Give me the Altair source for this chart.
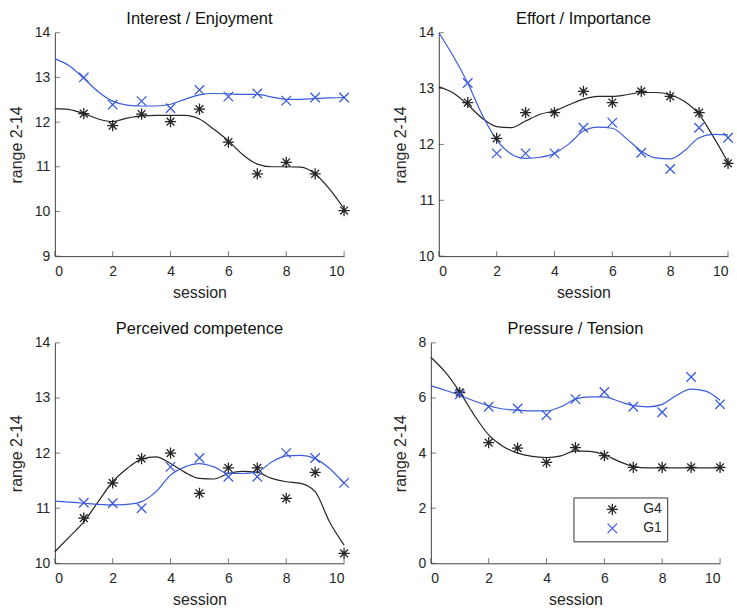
import altair as alt
import pandas as pd

# ---------------- data ----------------
sessions = [1, 2, 3, 4, 5, 6, 7, 8, 9, 10]
curve_x = [0, 0.5, 1, 1.5, 2, 2.5, 3, 3.5, 4, 4.5, 5, 5.5, 6, 6.5, 7, 7.5, 8, 8.5, 9, 9.5, 10]
groups = ["G4", "G1"]

titles = ["Interest / Enjoyment", "Effort / Importance", "Perceived competence", "Pressure / Tension"]
y_domains = [[9, 14], [10, 14], [10, 14], [0, 8]]
y_ticks = [[9, 10, 11, 12, 13, 14], [10, 11, 12, 13, 14], [10, 11, 12, 13, 14], [0, 2, 4, 6, 8]]
x_ticks = [0, 2, 4, 6, 8, 10]

# Interest / Enjoyment
p1_g4_pts = [12.19, 11.92, 12.18, 12.01, 12.29, 11.55, 10.84, 11.10, 10.84, 10.02]
p1_g1_pts = [13.00, 12.39, 12.47, 12.31, 12.72, 12.57, 12.64, 12.48, 12.55, 12.55]
p1_g4_fit = [12.30, 12.28, 12.19, 12.07, 12.01, 12.09, 12.14, 12.15, 12.15, 12.15, 12.07,
             11.84, 11.58, 11.27, 11.06, 11.00, 11.00, 10.99, 10.84, 10.50, 10.06]
p1_g1_fit = [13.42, 13.26, 12.98, 12.68, 12.47, 12.38, 12.36, 12.36, 12.40, 12.51, 12.61,
             12.64, 12.63, 12.62, 12.62, 12.56, 12.51, 12.51, 12.53, 12.54, 12.55]

# Effort / Importance
p2_g4_pts = [12.75, 12.11, 12.57, 12.57, 12.95, 12.75, 12.95, 12.86, 12.57, 11.66]
p2_g1_pts = [13.10, 11.84, 11.84, 11.84, 12.30, 12.39, 11.85, 11.56, 12.30, 12.12]
p2_g4_fit = [13.03, 12.92, 12.71, 12.47, 12.32, 12.30, 12.42, 12.54, 12.60, 12.71, 12.81,
             12.86, 12.86, 12.89, 12.93, 12.93, 12.89, 12.77, 12.54, 12.13, 11.68]
p2_g1_fit = [14.00, 13.58, 13.10, 12.53, 12.08, 11.83, 11.75, 11.77, 11.84, 12.01, 12.24,
             12.31, 12.29, 12.10, 11.88, 11.76, 11.74, 11.89, 12.12, 12.18, 12.17]

# Perceived competence
p3_g4_pts = [10.82, 11.46, 11.90, 12.00, 11.27, 11.73, 11.73, 11.18, 11.65, 10.18]
p3_g1_pts = [11.10, 11.09, 11.00, 11.75, 11.91, 11.57, 11.57, 12.00, 11.91, 11.46]
p3_g4_fit = [10.21, 10.48, 10.75, 11.12, 11.48, 11.72, 11.89, 11.93, 11.81, 11.65, 11.54,
             11.53, 11.63, 11.67, 11.65, 11.54, 11.48, 11.45, 11.30, 10.75, 10.33]
p3_g1_fit = [11.13, 11.11, 11.09, 11.07, 11.06, 11.07, 11.12, 11.30, 11.60, 11.75, 11.81,
             11.75, 11.63, 11.63, 11.66, 11.84, 11.95, 11.96, 11.90, 11.72, 11.45]

# Pressure / Tension
p4_g4_pts = [6.20, 4.38, 4.18, 3.66, 4.20, 3.91, 3.48, 3.48, 3.48, 3.48]
p4_g1_pts = [6.13, 5.68, 5.62, 5.38, 5.96, 6.22, 5.68, 5.48, 6.76, 5.77]
p4_g4_fit = [7.48, 6.94, 6.22, 5.38, 4.66, 4.24, 4.00, 3.88, 3.84, 3.90, 4.08,
             4.06, 3.94, 3.70, 3.52, 3.46, 3.46, 3.46, 3.46, 3.46, 3.46]
p4_g1_fit = [6.44, 6.28, 6.10, 5.89, 5.72, 5.60, 5.56, 5.53, 5.53, 5.68, 5.96,
             6.04, 6.04, 5.88, 5.72, 5.68, 5.77, 6.10, 6.32, 6.25, 5.92]

panels = [
    (p1_g4_pts, p1_g1_pts, p1_g4_fit, p1_g1_fit),
    (p2_g4_pts, p2_g1_pts, p2_g4_fit, p2_g1_fit),
    (p3_g4_pts, p3_g1_pts, p3_g4_fit, p3_g1_fit),
    (p4_g4_pts, p4_g1_pts, p4_g4_fit, p4_g1_fit),
]

# ---------------- style ----------------
FONT = "Liberation Sans"
BLACK = "#262626"
BLUE = "#3b5bdb"
AXIS = "#404040"
W = 290
H_TOP, H_BOTTOM = 224, 221
ASTERISK = "M0,-1L0,1M-1,0L1,0M-0.7,-0.7L0.7,0.7M-0.7,0.7L0.7,-0.7"
XMARK = "M-0.85,-0.85L0.85,0.85M-0.85,0.85L0.85,-0.85"

color_scale = alt.Scale(domain=groups, range=[BLACK, BLUE])
shape_scale = alt.Scale(domain=groups, range=[ASTERISK, XMARK])

# one shared legend, placed inside the lower-right panel
legend_spec = alt.Legend(
    title=None, orient="none", legendX=520, legendY=466,
    direction="vertical", strokeColor="#333333", fillColor="white",
    padding=5, symbolOffset=27, labelOffset=24, rowPadding=2, columnPadding=0,
    labelFont=FONT, labelFontSize=14, labelColor="#262626",
    symbolSize=125, symbolStrokeWidth=1.3, cornerRadius=0,
)


def make_panel(i, h):
    g4_pts, g1_pts, g4_fit, g1_fit = panels[i]
    pts = pd.DataFrame({
        "session": sessions + sessions,
        "value": g4_pts + g1_pts,
        "group": ["G4"] * len(sessions) + ["G1"] * len(sessions),
    })
    fit_g4 = pd.DataFrame({"session": curve_x, "value": g4_fit})
    fit_g1 = pd.DataFrame({"session": curve_x, "value": g1_fit})
    xt = pd.DataFrame({"session": x_ticks})
    yt = pd.DataFrame({"value": y_ticks[i]})

    x = alt.X("session:Q", scale=alt.Scale(domain=[0, 10], nice=False),
              axis=alt.Axis(values=x_ticks, title="session", grid=False, ticks=False,
                            tickSize=0, labelPadding=8, titlePadding=6, format="d"))
    y = alt.Y("value:Q", scale=alt.Scale(domain=y_domains[i], nice=False),
              axis=alt.Axis(values=y_ticks[i], title="range 2-14", grid=False, ticks=False,
                            tickSize=0, labelPadding=5, titlePadding=10, format="d"))

    line_g4 = alt.Chart(fit_g4).mark_line(interpolate="monotone", strokeWidth=1.2, color=BLACK).encode(x=x, y=y)
    line_g1 = alt.Chart(fit_g1).mark_line(interpolate="monotone", strokeWidth=1.2, color=BLUE).encode(x=x, y=y)
    points = alt.Chart(pts).mark_point(filled=False, strokeWidth=1.3, size=125, opacity=1).encode(
        x=x, y=y,
        color=alt.Color("group:N", scale=color_scale, legend=legend_spec),
        shape=alt.Shape("group:N", scale=shape_scale, legend=legend_spec),
    )
    xticks = alt.Chart(xt).mark_tick(orient="vertical", size=5, thickness=1, color=AXIS).encode(
        x=alt.X("session:Q"), y=alt.value(h - 2.5))
    yticks = alt.Chart(yt).mark_tick(orient="horizontal", size=5, thickness=1, color=AXIS).encode(
        y=alt.Y("value:Q"), x=alt.value(2.5))

    return alt.layer(line_g4, line_g1, points, xticks, yticks).properties(
        width=W, height=h, title=alt.TitleParams(titles[i]))


row1 = alt.hconcat(make_panel(0, H_TOP), make_panel(1, H_TOP), spacing=39)
row2 = alt.hconcat(make_panel(2, H_BOTTOM), make_panel(3, H_BOTTOM), spacing=39)

chart = alt.vconcat(row1, row2, spacing=21).properties(
    padding={"left": 8, "top": 10, "right": 0, "bottom": 0},
    background="white",
).configure_view(stroke=None).configure_axis(
    domainColor=AXIS, domainWidth=1,
    labelFont=FONT, titleFont=FONT, labelFontSize=14, titleFontSize=16,
    labelColor="#262626", titleColor="#262626", titleFontWeight="normal",
).configure_title(
    font=FONT, fontSize=16.5, fontWeight="normal", color="#111111", offset=-2, anchor="middle"
)

chart.save("out.html", embed_options={"renderer": "svg", "actions": False})
